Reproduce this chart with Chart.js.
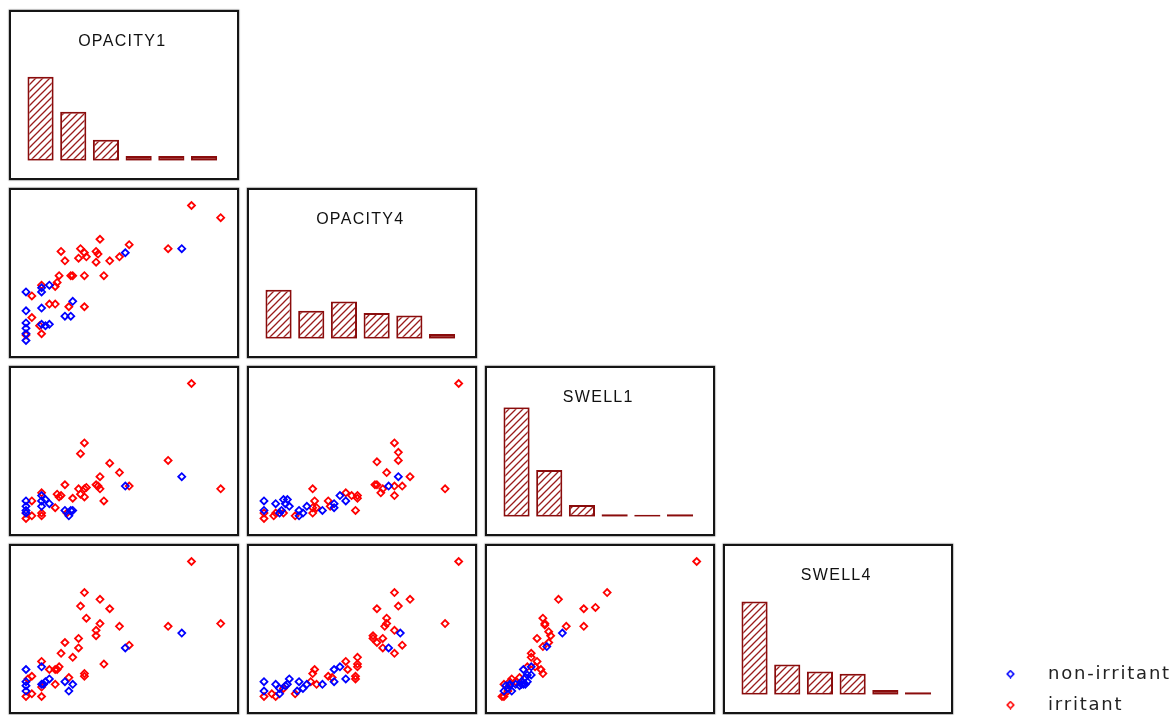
<!DOCTYPE html>
<html>
<head>
<meta charset="utf-8">
<title>Scatterplot matrix: OPACITY / SWELL</title>
<script src="https://cdn.jsdelivr.net/npm/chart.js@4.4.1/dist/chart.umd.min.js"></script>
<style>
  html, body { margin: 0; padding: 0; background: #fff; overflow: hidden; }
  #grid { position: relative; width: 1173px; height: 715px; overflow: hidden; }
  .panel {
    position: absolute; box-sizing: border-box; width: 230px; height: 170px;
    border: 2px solid #151515; box-shadow: 0 0 1px 0.4px rgba(0,0,0,0.5); background: #fff;
  }
  .panel canvas, #legendCanvas { display: block; }
  #legendCanvas { position: absolute; }
</style>
</head>
<body>
<div id="grid"></div>
<script>
// Variables of the matrix (diagonal order) and histogram bins (values on a 0–100 scale)
const variables = ['OPACITY1', 'OPACITY4', 'SWELL1', 'SWELL4'];
const binLabels = ['0–17', '17–33', '33–50', '50–67', '67–83', '83–100'];
const groupNames = ['non-irritant', 'irritant'];

// Histogram counts per variable
const opacity1Counts = [36, 21, 9, 2, 2, 2];
const opacity4Counts = [21, 12, 16, 11, 10, 2];
const swell1Counts   = [47, 20, 5, 1, 0, 1];
const swell4Counts   = [40, 13, 10, 9, 2, 1];

// Pairwise observations [x, y] for each lower-triangle panel
const op4VsOp1Non = [[80,68],[51,65],[12,41],[8,39],[8,36],[0,36],[24,29],[8,24],[0,22],[20,18],[23,18],[8,12],[10,11],[12,12],[0,13],[0,9],[0,5],[0,0]];
const op4VsOp1Irr = [[85,100],[100,91],[38,75],[53,71],[73,68],[18,66],[28,68],[30,65],[27,61],[31,62],[36,66],[37,64],[36,58],[20,59],[43,59],[48,62],[17,48],[23,48],[24,48],[30,48],[40,48],[16,43],[15,40],[8,41],[3,33],[12,27],[15,27],[22,25],[30,25],[3,17],[7,11],[8,5],[0,4]];

const sw1VsOp1Non = [[80,31],[51,24],[12,11],[10,14],[8,17],[8,13],[8,9],[20,6],[23,6],[22,2],[24,6],[0,13],[0,9],[0,6],[0,4]];
const sw1VsOp1Irr = [[85,100],[100,22],[73,43],[30,56],[28,48],[43,41],[48,34],[38,31],[53,24],[20,25],[27,22],[30,22],[31,23],[28,18],[30,16],[36,25],[37,24],[38,22],[40,13],[24,15],[16,18],[17,16],[18,17],[15,8],[8,19],[8,4],[8,2],[21,4],[3,13],[3,2],[0,0],[0,4]];

const sw4VsOp1Non = [[80,47],[51,36],[8,22],[0,20],[12,13],[10,11],[20,11],[24,9],[22,4],[8,9],[0,11],[0,8],[0,4],[9,9]];
const sw4VsOp1Irr = [[85,100],[100,54],[73,52],[30,77],[38,72],[28,67],[43,65],[31,58],[38,54],[48,52],[36,49],[36,45],[53,38],[27,43],[27,36],[20,40],[18,32],[24,29],[40,24],[8,26],[12,20],[15,20],[16,20],[17,22],[30,17],[30,15],[3,15],[22,14],[15,9],[8,7],[8,0],[0,0],[3,2],[1,13]];

const sw1VsOp4Non = [[69,31],[64,24],[39,17],[42,13],[36,11],[36,8],[30,6],[22,9],[18,6],[18,2],[20,4],[12,14],[10,14],[11,11],[13,9],[6,11],[9,6],[0,13],[0,6],[8,4]];
const sw1VsOp4Irr = [[100,100],[93,22],[67,56],[69,49],[69,43],[58,42],[63,34],[75,31],[57,25],[58,25],[61,22],[60,19],[67,24],[71,24],[67,17],[25,22],[26,13],[25,8],[27,8],[25,4],[33,13],[34,9],[42,19],[45,17],[48,17],[48,15],[47,6],[16,2],[0,4],[0,0],[5,2],[6,4],[10,4]];

const sw4VsOp4Non = [[70,47],[64,36],[36,20],[39,22],[42,13],[36,11],[30,9],[18,11],[20,6],[22,9],[17,4],[13,13],[12,9],[11,8],[6,9],[8,6],[8,2],[0,11],[0,4]];
const sw4VsOp4Irr = [[100,100],[93,54],[67,77],[75,72],[69,67],[58,65],[63,58],[63,54],[62,52],[67,49],[56,45],[56,43],[61,43],[58,40],[71,38],[61,36],[67,32],[48,29],[48,24],[48,22],[47,15],[47,13],[42,26],[43,20],[33,15],[35,14],[26,20],[25,17],[24,11],[27,9],[16,2],[0,0],[4,2],[6,0],[10,6]];

const sw4VsSw1Non = [[31,47],[23,37],[11,20],[15,22],[13,16],[12,14],[10,11],[10,9],[7,9],[4,9],[4,8],[2,8],[5,4],[3,6],[1,4],[9,8],[11,9],[13,11],[12,9],[15,16]];
const sw4VsSw1Irr = [[100,100],[54,77],[29,72],[48,66],[42,65],[21,58],[22,54],[22,53],[33,52],[42,52],[24,48],[25,45],[18,43],[21,37],[24,40],[15,32],[15,29],[18,26],[13,22],[20,20],[21,17],[17,22],[9,14],[5,13],[4,11],[1,9],[0,0],[1,0],[3,4],[7,11]];

// ---- lookup tables built from the arrays above ----
const histCounts = [opacity1Counts, opacity4Counts, swell1Counts, swell4Counts];
const scatterCells = [
  { row: 1, col: 0, non: op4VsOp1Non, irr: op4VsOp1Irr },
  { row: 2, col: 0, non: sw1VsOp1Non, irr: sw1VsOp1Irr },
  { row: 3, col: 0, non: sw4VsOp1Non, irr: sw4VsOp1Irr },
  { row: 2, col: 1, non: sw1VsOp4Non, irr: sw1VsOp4Irr },
  { row: 3, col: 1, non: sw4VsOp4Non, irr: sw4VsOp4Irr },
  { row: 3, col: 2, non: sw4VsSw1Non, irr: sw4VsSw1Irr }
];

// ---- styling ----
const BLUE = 'rgb(0,0,255)';
const RED = 'rgb(255,0,0)';
const BAR_EDGE = '#8a0c0c';
const HATCH = '#9a1c1c';
const PANEL_X0 = 9, PANEL_Y0 = 10, STEP_X = 238, STEP_Y = 178;
const INNER_W = 226, INNER_H = 166;

// letter spacing for titles and legend text
const spacedText = {
  id: 'spacedText',
  beforeDraw(chart, args, opts) { chart.ctx.letterSpacing = opts.spacing || '0px'; }
};

const grid = document.getElementById('grid');

function makePanel(row, col) {
  const div = document.createElement('div');
  div.className = 'panel';
  div.style.left = (PANEL_X0 + col * STEP_X) + 'px';
  div.style.top = (PANEL_Y0 + row * STEP_Y) + 'px';
  const cv = document.createElement('canvas');
  cv.width = INNER_W; cv.height = INNER_H;
  div.appendChild(cv);
  grid.appendChild(div);
  return cv;
}

function hatchPattern(ctx) {
  const s = 7;
  const t = document.createElement('canvas');
  t.width = s; t.height = s;
  const g = t.getContext('2d');
  g.fillStyle = '#fff'; g.fillRect(0, 0, s, s);
  g.strokeStyle = HATCH; g.lineWidth = 1.3;
  g.beginPath();
  g.moveTo(0, s); g.lineTo(s, 0);
  g.moveTo(-1, 1); g.lineTo(1, -1);
  g.moveTo(s - 1, s + 1); g.lineTo(s + 1, s - 1);
  g.stroke();
  return ctx.createPattern(t, 'repeat');
}

const yMaxCount = Math.max(...histCounts.flat());

// diagonal: histograms
variables.forEach((name, i) => {
  const cv = makePanel(i, i);
  const hatch = hatchPattern(cv.getContext('2d'));
  new Chart(cv, {
    type: 'bar',
    data: {
      labels: binLabels,
      datasets: [{
        data: histCounts[i],
        // very short bars are too thin to show the hatching: fill them solid
        backgroundColor: c => (c.raw <= 2 ? BAR_EDGE : hatch),
        borderColor: BAR_EDGE,
        borderWidth: 2,
        borderSkipped: false,
        minBarLength: 2,
        categoryPercentage: 0.8,
        barPercentage: 1
      }]
    },
    options: {
      responsive: false, animation: false, events: [],
      layout: { padding: { left: 13.2, right: 16.6, top: 0, bottom: 17.3 } },
      scales: {
        x: { display: false },
        y: { display: false, min: 0, max: yMaxCount }
      },
      plugins: {
        legend: { display: false },
        tooltip: { enabled: false },
        spacedText: { spacing: '1.3px' },
        title: {
          display: true, text: name, fullSize: false,
          color: '#111',
          font: { family: 'Liberation Sans', size: 16, weight: 'normal', lineHeight: 1.2 },
          padding: { top: 20, bottom: 0 }
        }
      }
    },
    plugins: [spacedText]
  });
});

// lower triangle: scatter plots
function groupDataset(label, data, color) {
  return {
    label, data, showLine: false, clip: false,
    pointStyle: 'rectRot', pointRadius: 3.5, pointBorderWidth: 1.8,
    pointBorderColor: color, borderColor: color,
    pointBackgroundColor: 'rgba(255,255,255,0)', backgroundColor: 'rgba(255,255,255,0)'
  };
}

scatterCells.forEach(cell => {
  const cv = makePanel(cell.row, cell.col);
  new Chart(cv, {
    type: 'scatter',
    data: {
      datasets: [
        groupDataset(groupNames[0], cell.non, BLUE),
        groupDataset(groupNames[1], cell.irr, RED)
      ]
    },
    options: {
      responsive: false, animation: false, events: [],
      layout: { padding: { left: 15, right: 16.3, top: 15.5, bottom: 15.5 } },
      scales: {
        x: { type: 'linear', display: false, min: 0, max: 100 },
        y: { type: 'linear', display: false, min: 0, max: 100 }
      },
      plugins: { legend: { display: false }, tooltip: { enabled: false } }
    }
  });
});

// group legend
function markerImage(color) {
  const c = document.createElement('canvas');
  c.width = 9; c.height = 9;
  const g = c.getContext('2d');
  g.strokeStyle = color; g.lineWidth = 1.6;
  g.beginPath();
  g.moveTo(4.5, 1.2); g.lineTo(7.8, 4.5); g.lineTo(4.5, 7.8); g.lineTo(1.2, 4.5); g.closePath();
  g.stroke();
  return c;
}

const lg = document.createElement('canvas');
lg.id = 'legendCanvas';
lg.width = 204; lg.height = 160;
lg.style.left = '969px'; lg.style.top = '652px';
grid.appendChild(lg);
new Chart(lg, {
  type: 'scatter',
  data: {
    datasets: [
      { label: groupNames[0], data: [], pointStyle: markerImage(BLUE), borderColor: BLUE },
      { label: groupNames[1], data: [], pointStyle: markerImage(RED), borderColor: RED }
    ]
  },
  options: {
    responsive: false, animation: false, events: [],
    scales: { x: { display: false }, y: { display: false } },
    plugins: {
      tooltip: { enabled: false },
      spacedText: { spacing: '1.8px' },
      legend: {
        position: 'top', align: 'start',
        labels: {
          usePointStyle: true, pointStyleWidth: 57, boxHeight: 7, padding: 13,
          color: '#222', font: { family: 'DejaVu Sans', size: 18 }
        }
      }
    }
  },
  plugins: [spacedText]
});
</script>
</body>
</html>
